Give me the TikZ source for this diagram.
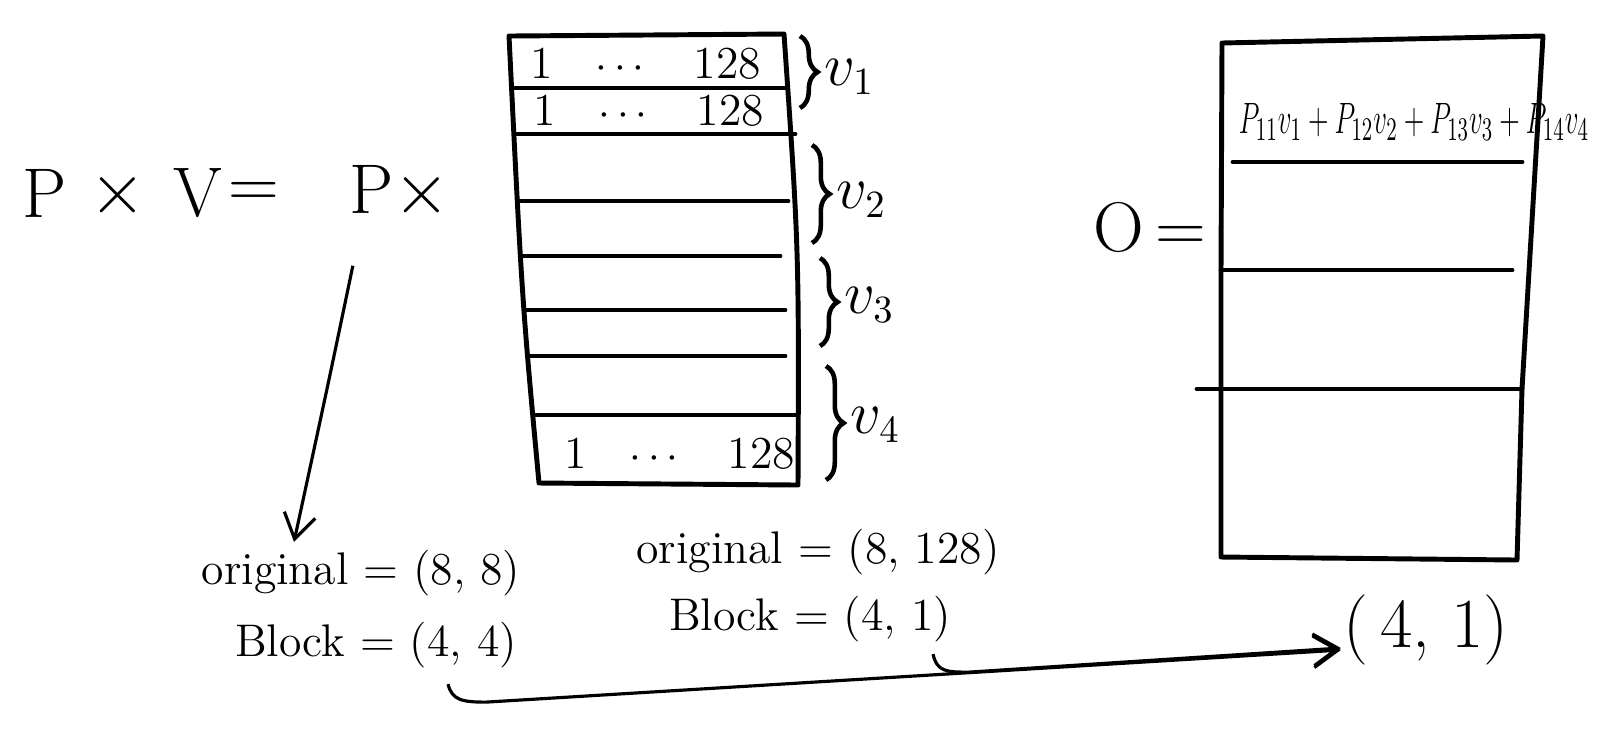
\documentclass[tikz,border=0pt]{standalone}
\usepackage{amsmath}
\usetikzlibrary{arrows.meta, positioning, decorations.pathreplacing, calc}
\tikzset{
  big/.style={font=\fontsize{20}{24}\selectfont, inner sep=0pt},
  note/.style={font=\fontsize{13}{16}\selectfont, inner sep=1pt},
  cell/.style={font=\fontsize{13}{16}\selectfont, inner sep=0pt},
  vlab/.style={font=\fontsize{16}{19}\selectfont, inner sep=0pt, anchor=west},
  grid/.style={line width=1.4pt, line cap=round, line join=round},
  brc/.style={decorate, decoration={brace, amplitude=5pt}, line width=1.3pt},
  arrow/.style={-{Straight Barb[length=7pt, width=9pt]}, line width=0.9pt},
}
\begin{document}
\begin{tikzpicture}[x=0.01cm, y=-0.01cm]
  \useasboundingbox (0,0) rectangle (1618,732);

  % left hand side
  \node[big] (p)  at (45,193)  {P};
  \node[big] (t1) at (118,195) {$\times$};
  \node[big] (v)  at (198,193) {V};
  \node[big] (eq) at (254,195) {=};
  \node[big] (px) at (400,193) {P$\times$};

  % V split into rows
  \draw[grid] (509,36) -- (784,34) .. controls (799,250) .. (798,485)
              -- (539,483) .. controls (522,300) .. (509,36);
  \foreach \y/\a/\b in {88/512/784, 134/515/795, 201/519/788, 256/523/780,
                        310/527/785, 356/530/785, 415/535/795}
    \draw[grid] (\a,\y) -- (\b,\y);
  \node[cell] (r1) at (646,64)  {\makebox[2.3cm]{1\hfill$\cdots$\hfill128}};
  \node[cell] (r2) at (649,111) {\makebox[2.3cm]{1\hfill$\cdots$\hfill128}};
  \node[cell] (r8) at (680,454) {\makebox[2.3cm]{1\hfill$\cdots$\hfill128}};

  % braces
  \draw[brc] (800,36)  -- (800,108);
  \draw[brc] (812,145) -- (812,243);
  \draw[brc] (820,258) -- (820,346);
  \draw[brc] (826,366) -- (826,480);
  \node[vlab] (v1) at (824,77)  {$v_1$};
  \node[vlab] (v2) at (836,200) {$v_2$};
  \node[vlab] (v3) at (844,305) {$v_3$};
  \node[vlab] (v4) at (850,425) {$v_4$};

  % shapes
  \node[note] (o88)  at (361,573) {original = (8, 8)};
  \node[note] (b44)  at (376,645) {Block = (4, 4)};
  \node[note] (o128) at (818,552) {original = (8, 128)};
  \node[note] (b41)  at (810,619) {Block = (4, 1)};

  % output
  \node[big] (out) at (1150,227) {O\,=};
  \draw[grid] (1222,43) -- (1543,36) -- (1522,389) -- (1517,560)
              -- (1221,557) -- (1221,270) -- cycle;
  \draw[grid] (1233,162) -- (1522,162);
  \draw[grid] (1221,270) -- (1512,270);
  \draw[grid] (1197,389) -- (1522,389);
  \node[cell] (sum) at (1414,122)
    {\resizebox{3.5cm}{0.3cm}{$P_{11}v_1+P_{12}v_2+P_{13}v_3+P_{14}v_4$}};
  \node[big] (o41) at (1426,630) {(\,4, 1)};

  % links
  \draw[arrow] ($(px.south west)+(4,45)$) .. controls ($(px.south west)+(-20,160)$)
               .. ($(o88.north)+(-67,-4)$);
  \draw[arrow] ($(b41.south east)+(-22,8)$) .. controls ($(b41.south east)+(-18,26)$)
               and ($(b41.south east)+(-8,26)$) .. ($(b41.south east)+(14,26)$)
               -- ($(o41.west)+(-2,18)$);
  \draw[arrow] ($(b44.south)+(72,12)$) .. controls ($(b44.south)+(76,28)$)
               and ($(b44.south)+(86,30)$) .. ($(b44.south)+(110,30)$)
               -- ($(o41.west)+(-2,20)$);
\end{tikzpicture}
\end{document}
